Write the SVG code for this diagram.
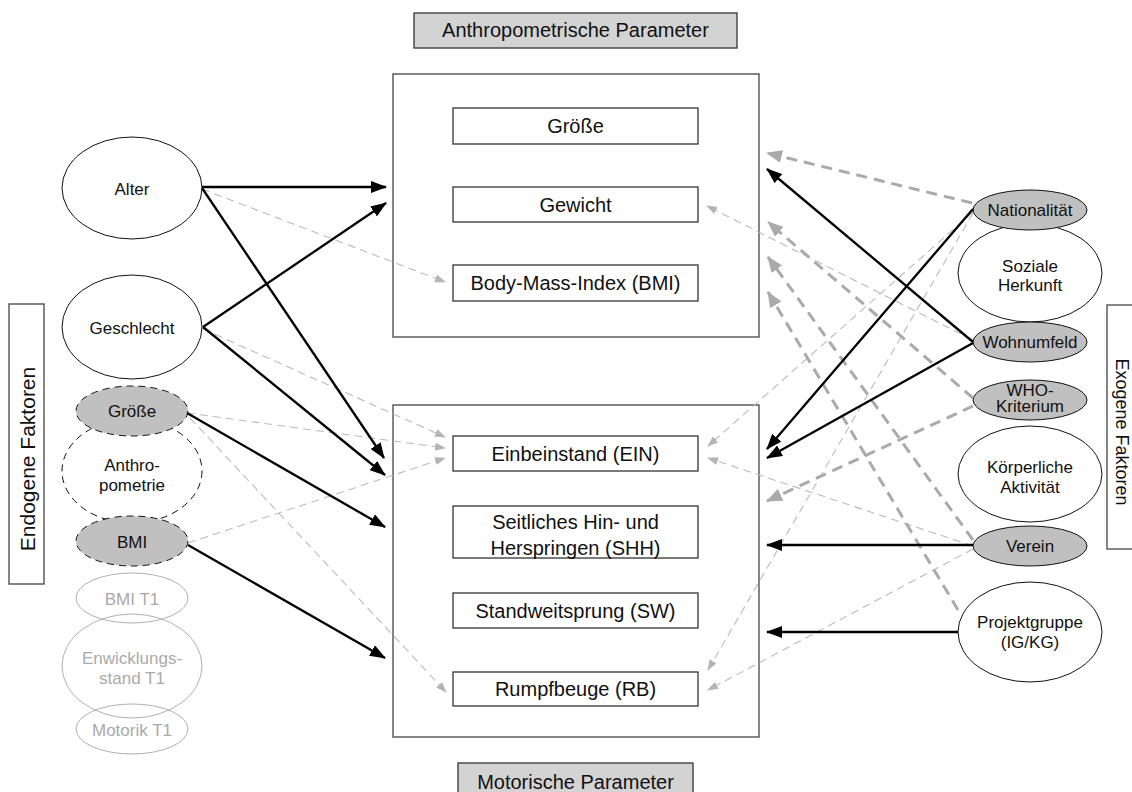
<svg xmlns="http://www.w3.org/2000/svg" width="1132" height="792" viewBox="0 0 1132 792">
<style>
text{font-family:"Liberation Sans",Arial,sans-serif;fill:#111;dominant-baseline:central;text-anchor:middle}
.bt{font-size:20px}
.et{font-size:17px}
.lt{font-size:17px;fill:#aaa}
.frame{fill:none;stroke:#444;stroke-width:1.3}
.box{fill:#fff;stroke:#333;stroke-width:1.3}
.lbl{fill:#d3d3d3;stroke:#333;stroke-width:1.3}
.ew{fill:#fff;stroke:#111;stroke-width:1}
.eg{fill:#c0c0c0;stroke:#111;stroke-width:1}
.ed{fill:#fff;stroke:#111;stroke-width:1;stroke-dasharray:7 5}
.egd{fill:#c0c0c0;stroke:#111;stroke-width:1;stroke-dasharray:7 5}
.el{fill:none;stroke:#b0b0b0;stroke-width:1}
.blk{stroke:#000;stroke-width:2.3;fill:none;marker-end:url(#ab)}
.thin{stroke:#bbb;stroke-width:1.1;fill:none;stroke-dasharray:8 5;marker-end:url(#at)}
.thick{stroke:#aaa;stroke-width:3;fill:none;stroke-dasharray:11 7;marker-end:url(#ak)}
</style>
<defs>
<marker id="ab" markerUnits="userSpaceOnUse" markerWidth="16" markerHeight="12" refX="15" refY="6" orient="auto"><path d="M0,0 L16,6 L0,12 z" fill="#000"/></marker>
<marker id="at" markerUnits="userSpaceOnUse" markerWidth="11" markerHeight="8" refX="10" refY="4" orient="auto"><path d="M0,0 L11,4 L0,8 z" fill="#b4b4b4"/></marker>
<marker id="ak" markerUnits="userSpaceOnUse" markerWidth="16" markerHeight="13" refX="15" refY="6.5" orient="auto"><path d="M0,0 L16,6.5 L0,13 z" fill="#aaa"/></marker>
</defs>

<g id="label-anthro"><rect class="lbl" x="414" y="13" width="323" height="35"/><text class="bt" x="575.5" y="30">Anthropometrische Parameter</text></g>
<g id="label-motor"><rect class="lbl" x="458" y="763" width="235" height="40"/><text class="bt" x="575.5" y="782">Motorische Parameter</text></g>
<g id="group-anthro"><rect class="frame" x="393" y="74" width="366" height="263"/></g>
<g id="group-motor"><rect class="frame" x="393" y="405" width="366" height="332"/></g>

<g id="box-groesse"><rect class="box" x="453" y="108" width="245" height="36"/><text class="bt" x="575.5" y="126">Größe</text></g>
<g id="box-gewicht"><rect class="box" x="453" y="187" width="245" height="35"/><text class="bt" x="575.5" y="204.5">Gewicht</text></g>
<g id="box-bmi"><rect class="box" x="453" y="265" width="245" height="36"/><text class="bt" x="575.5" y="283">Body-Mass-Index (BMI)</text></g>
<g id="box-ein"><rect class="box" x="453" y="436" width="245" height="35"/><text class="bt" x="575.5" y="453.5">Einbeinstand (EIN)</text></g>
<g id="box-shh"><rect class="box" x="453" y="506" width="245" height="52"/><text class="bt" x="575.5" y="522">Seitliches Hin- und</text><text class="bt" x="575.5" y="548">Herspringen (SHH)</text></g>
<g id="box-sw"><rect class="box" x="453" y="593" width="245" height="35"/><text class="bt" x="575.5" y="610.5">Standweitsprung (SW)</text></g>
<g id="box-rb"><rect class="box" x="453" y="672" width="245" height="34"/><text class="bt" x="575.5" y="689">Rumpfbeuge (RB)</text></g>

<g id="label-endogen"><rect class="frame" x="9" y="304" width="35" height="280"/><text x="27" y="459" font-size="21" transform="rotate(-90 27 459)">Endogene Faktoren</text></g>
<g id="label-exogen"><rect class="frame" x="1107" y="305" width="40" height="244"/><text x="1122" y="432" font-size="18" transform="rotate(90 1122 432)">Exogene Faktoren</text></g>

<g id="node-alter"><ellipse class="ew" cx="132" cy="188" rx="70" ry="51"/><text class="et" x="132" y="189">Alter</text></g>
<g id="node-geschlecht"><ellipse class="ew" cx="132" cy="327" rx="70" ry="52"/><text class="et" x="132" y="328">Geschlecht</text></g>
<g id="node-anthropometrie"><ellipse class="ed" cx="132" cy="471" rx="70" ry="52"/><text class="et" x="132" y="465">Anthro-</text><text class="et" x="132" y="485">pometrie</text></g>
<g id="node-groesse-l"><ellipse class="egd" cx="132" cy="411" rx="56" ry="25"/><text class="et" x="132" y="411">Größe</text></g>
<g id="node-bmi-l"><ellipse class="egd" cx="132" cy="541" rx="56" ry="25"/><text class="et" x="132" y="542">BMI</text></g>
<g id="node-bmi-t1"><ellipse class="el" cx="132" cy="598" rx="56" ry="25"/><text class="lt" x="132" y="599">BMI T1</text></g>
<g id="node-entw-t1"><ellipse class="el" cx="132" cy="666" rx="70" ry="52"/><text class="lt" x="132" y="658">Enwicklungs-</text><text class="lt" x="132" y="678">stand T1</text></g>
<g id="node-motorik-t1"><ellipse class="el" cx="132" cy="729" rx="56" ry="25"/><text class="lt" x="132" y="730">Motorik T1</text></g>

<g id="node-soziale"><ellipse class="ew" cx="1030" cy="273" rx="72" ry="49"/><text class="et" x="1030" y="266">Soziale</text><text class="et" x="1030" y="285">Herkunft</text></g>
<g id="node-nationalitaet"><ellipse class="eg" cx="1030" cy="210" rx="57" ry="20"/><text class="et" x="1030" y="210">Nationalität</text></g>
<g id="node-wohnumfeld"><ellipse class="eg" cx="1030" cy="342" rx="57" ry="20"/><text class="et" x="1030" y="342">Wohnumfeld</text></g>
<g id="node-koerperlich"><ellipse class="ew" cx="1030" cy="474" rx="72" ry="48"/><text class="et" x="1030" y="467">Körperliche</text><text class="et" x="1030" y="487">Aktivität</text></g>
<g id="node-who"><ellipse class="eg" cx="1030" cy="400" rx="57" ry="20"/><text class="et" x="1030" y="390" font-size="16">WHO-</text><text class="et" x="1030" y="406" font-size="16">Kriterium</text></g>
<g id="node-verein"><ellipse class="eg" cx="1030" cy="546" rx="57" ry="20"/><text class="et" x="1030" y="546">Verein</text></g>
<g id="node-projekt"><ellipse class="ew" cx="1030" cy="632" rx="72" ry="50"/><text class="et" x="1030" y="622">Projektgruppe</text><text class="et" x="1030" y="642">(IG/KG)</text></g>

<g id="connectors">
<path class="thin" d="M202,189 L445,282"/>
<path class="thin" d="M203,329 L445,437"/>
<path class="thin" d="M187,413 L445,448"/>
<path class="thin" d="M188,543 L445,458"/>
<path class="thin" d="M190,418 L446,692"/>
<path class="thin" d="M973,340 L707,206"/>
<path class="thin" d="M973,212 L708,446"/>
<path class="thin" d="M973,546 L708,458"/>
<path class="thin" d="M973,213 L708,670"/>
<path class="thin" d="M973,549 L708,690"/>
<path class="thick" d="M972,203 L767,153"/>
<path class="thick" d="M973,398 L768,222"/>
<path class="thick" d="M973,540 L768,257"/>
<path class="thick" d="M958,610 L768,292"/>
<path class="thick" d="M973,406 L767,501"/>
<path class="blk" d="M202,187 L386,187"/>
<path class="blk" d="M203,327 L386,203"/>
<path class="blk" d="M202,188 L384,458"/>
<path class="blk" d="M203,327 L385,475"/>
<path class="blk" d="M187,413 L385,527"/>
<path class="blk" d="M188,545 L385,658"/>
<path class="blk" d="M973,342 L767,169"/>
<path class="blk" d="M973,209 L767,449"/>
<path class="blk" d="M973,343 L767,458"/>
<path class="blk" d="M973,545 L767,545"/>
<path class="blk" d="M958,632 L767,632"/>
</g>
</svg>
